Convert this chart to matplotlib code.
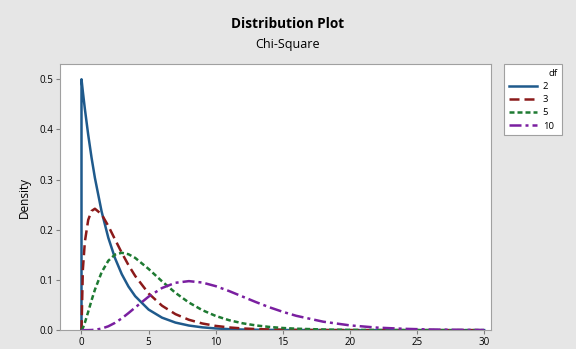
import matplotlib
matplotlib.use("Agg")
import matplotlib.pyplot as plt

# --- data (chi-square densities) ---
x = [0, 0.1, 0.25, 0.5, 0.75, 1, 1.5, 2, 2.5, 3, 3.5, 4, 5, 6, 7, 8, 9, 10,
     11, 12, 13, 14, 15, 16, 18, 20, 22, 24, 26, 28, 30]
df2 = [0.5, 0.4756, 0.4412, 0.3894, 0.3436, 0.3033, 0.2362, 0.1839, 0.1433,
       0.1116, 0.0869, 0.0677, 0.0410, 0.0249, 0.0151, 0.0092, 0.0056, 0.0034,
       0.0020, 0.0012, 0.0008, 0.0005, 0.0003, 0.0002, 0.0001, 0, 0, 0, 0, 0, 0]
df3 = [0, 0.1200, 0.1760, 0.2197, 0.2375, 0.2420, 0.2308, 0.2076, 0.1807,
       0.1542, 0.1297, 0.1080, 0.0732, 0.0487, 0.0319, 0.0207, 0.0133, 0.0085,
       0.0054, 0.0034, 0.0022, 0.0014, 0.0009, 0.0005, 0.0002, 0.0001, 0, 0, 0, 0, 0]
df5 = [0, 0.0040, 0.0147, 0.0366, 0.0594, 0.0807, 0.1154, 0.1384, 0.1506,
       0.1542, 0.1513, 0.1440, 0.1220, 0.0973, 0.0744, 0.0551, 0.0399, 0.0283,
       0.0198, 0.0137, 0.0094, 0.0064, 0.0043, 0.0029, 0.0013, 0.0005, 0.0002,
       0.0001, 0, 0, 0]
df10 = [0, 0, 0, 0.0001, 0.0003, 0.0008, 0.0031, 0.0077, 0.0146, 0.0235,
        0.0340, 0.0451, 0.0668, 0.0840, 0.0944, 0.0977, 0.0949, 0.0877, 0.0779,
        0.0669, 0.0559, 0.0456, 0.0365, 0.0286, 0.0169, 0.0095, 0.0051, 0.0027,
        0.0013, 0.0007, 0.0003]

series = [("2", df2), ("3", df3), ("5", df5), ("10", df10)]
colors = ["#1f5a8c", "#8b1a1a", "#1e7a32", "#7a1fa0"]
styles = ["-", (0, (4.0, 2.0)), (0, (2.0, 1.2)), (0, (4.8, 1.6, 1.2, 1.6))]

plt.rcParams['font.family'] = ['Open Sans', 'DejaVu Sans']

# --- figure ---
fig = plt.figure(figsize=(5.76, 3.49), dpi=100, facecolor="#e6e6e6")
ax = fig.add_axes([0.1042, 0.054, 0.748, 0.762])
ax.set_facecolor("white")

for (lab, y), c, ls in zip(series, colors, styles):
    xs, ys = x, y
    if lab == "2":
        # vertical drop at zero
        xs = [0] + x
        ys = [0] + y
    ax.plot(xs, ys, color=c, linestyle=ls, linewidth=1.8, label=lab)

ax.set_xlim(-1.6, 30.5)
ax.set_ylim(0, 0.53)
ax.set_xticks(range(0, 31, 5))
ax.set_yticks([0.0, 0.1, 0.2, 0.3, 0.4, 0.5])
ax.set_yticklabels(["0.0", "0.1", "0.2", "0.3", "0.4", "0.5"])
ax.tick_params(labelsize=7, length=3, color="#808080", pad=2)
for s in ax.spines.values():
    s.set_color("#a0a0a0")
ax.set_ylabel("Density", fontsize=8.5, labelpad=6)

fig.text(0.5, 0.93, "Distribution Plot", ha="center", va="center",
         fontsize=9.8, fontweight="bold")
fig.text(0.5, 0.872, "Chi-Square", ha="center", va="center", fontsize=9)

leg = fig.legend(loc="upper left", bbox_to_anchor=(0.875, 0.8166, 0.101, 0.0),
                 mode="expand", title="df",
                 fontsize=6.8, title_fontsize=6.8, frameon=True, fancybox=False,
                 framealpha=1, handlelength=3.0, handletextpad=0.6,
                 borderpad=0.5, labelspacing=0.45, alignment="right",
                 borderaxespad=0)
leg.get_frame().set_edgecolor("#a0a0a0")
leg.get_frame().set_linewidth(0.8)

fig.savefig("out.png", dpi=100, facecolor=fig.get_facecolor())
